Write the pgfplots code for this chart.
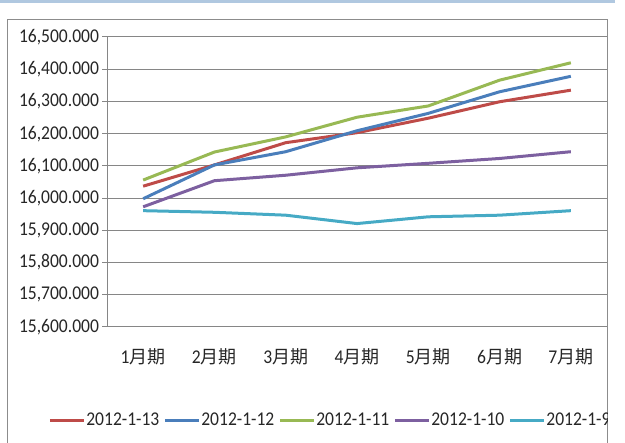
\documentclass[border=0pt]{standalone}
\usepackage{fontspec}
\setmainfont[FakeStretch=0.9]{Carlito}
\newfontfamily\cjkf{Noto Sans CJK SC}
\newcommand\cjk[1]{{\cjkf\fontsize{18bp}{20bp}\selectfont #1}}
\usepackage{pgfplots}
\pgfplotsset{compat=1.18}
\definecolor{cred}{HTML}{BE4B48}
\definecolor{cblue}{HTML}{4A7EBB}
\definecolor{cgreen}{HTML}{98B954}
\definecolor{cpurple}{HTML}{7D60A0}
\definecolor{ccyan}{HTML}{46AAC5}
\definecolor{band}{HTML}{B0C8E0}
\definecolor{bordergray}{HTML}{8C8C8C}
\definecolor{gridgray}{HTML}{868686}
\begin{document}
\begin{tikzpicture}
\path[use as bounding box] (0,0) rectangle (625bp,443bp);
\begin{scope}
\clip (0,0) rectangle (625bp,443bp);
\fill[band] (0,439.5bp) rectangle (615bp,443bp);
\draw[bordergray, line width=1bp] (7bp,-5bp) rectangle (607.5bp,423bp);
\end{scope}
\begin{scope}
\clip (0,0) rectangle (607bp,443bp);
\begin{axis}[
  at={(107.5bp,116bp)}, anchor=south west,
  scale only axis, width=499bp, height=290bp,
  xmin=-0.5, xmax=6.5, ymin=15600, ymax=16500,
  xtick={0,...,6},
  xticklabels={1\cjk{月期},2\cjk{月期},3\cjk{月期},4\cjk{月期},5\cjk{月期},6\cjk{月期},7\cjk{月期}},
  minor xtick={-0.5,0.5,...,6.5},
  ytick={15600,15700,...,16500},
  scaled y ticks=false,
  yticklabel style={/pgf/number format/.cd, fixed, fixed zerofill, precision=3, 1000 sep={,}, assume math mode=true},
  tick label style={font=\fontsize{19.5bp}{21bp}\selectfont, text=black!85},
  xticklabel style={yshift=-13bp},
  tick align=outside,
  major tick length=5bp, minor tick length=6bp,
  xtick style={draw=none},
  minor x tick style={gridgray, line width=1bp},
  ytick style={gridgray, line width=1bp},
  ymajorgrids, grid style={gridgray, line width=1bp},
  axis x line*=bottom, axis y line*=left,
  axis line style={gridgray, line width=1bp},
  every axis plot/.append style={line width=3bp, mark=none},
  legend columns=5,
  legend style={at={(axis description cs:-0.119,-0.321)}, anchor=west, draw=none, fill=none,
    font=\fontsize{19.5bp}{21bp}\selectfont, text=black!85, inner sep=0pt,
    nodes={inner sep=1bp},
    /tikz/every even column/.append style={column sep=3bp}},
  legend image code/.code={\draw[#1] (0bp,0bp) -- (34bp,0bp);},
]
\addplot[cred] coordinates {(0,16037) (1,16103) (2,16172) (3,16203) (4,16248) (5,16299) (6,16335)};
\addplot[cblue] coordinates {(0,15998) (1,16103) (2,16144) (3,16209) (4,16263) (5,16330) (6,16378)};
\addplot[cgreen] coordinates {(0,16056) (1,16143) (2,16190) (3,16251) (4,16286) (5,16366) (6,16420)};
\addplot[cpurple] coordinates {(0,15973) (1,16054) (2,16071) (3,16094) (4,16108) (5,16123) (6,16144)};
\addplot[ccyan] coordinates {(0,15961) (1,15956) (2,15947) (3,15921) (4,15942) (5,15947) (6,15961)};
\legend{2012-1-13,2012-1-12,2012-1-11,2012-1-10,2012-1-9}
\end{axis}
\end{scope}
\end{tikzpicture}
\end{document}
